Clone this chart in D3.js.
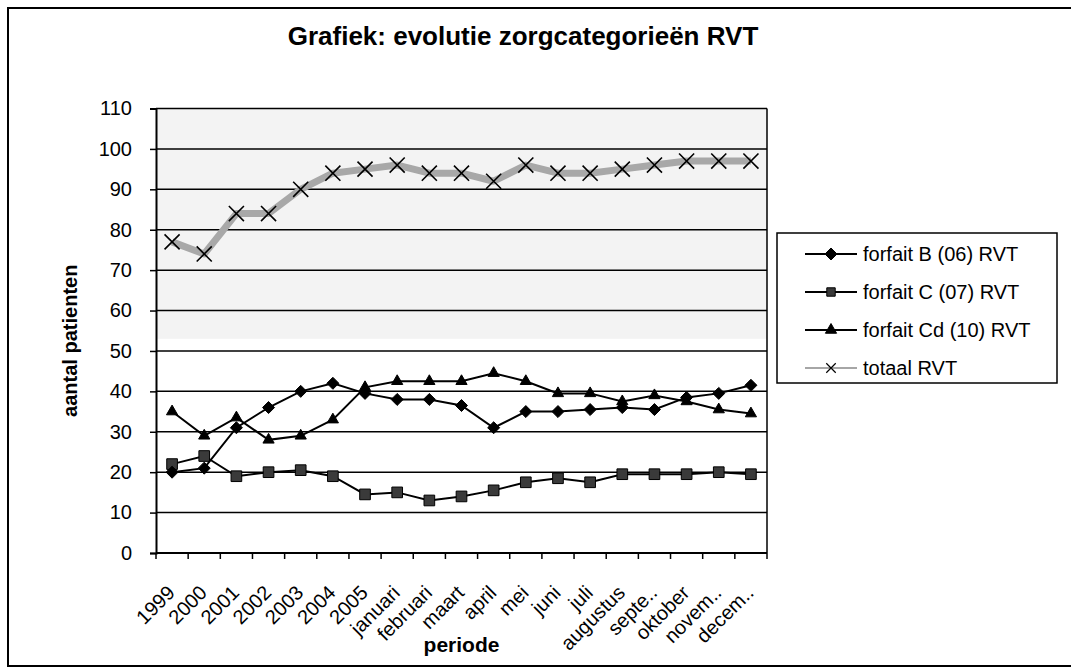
<!DOCTYPE html>
<html lang="nl">
<head>
<meta charset="UTF-8">
<title>Grafiek: evolutie zorgcategorieën RVT</title>
<script src="https://d3js.org/d3.v7.min.js"></script>
<style>
  body { margin: 0; background: #fff; }
  text { font-family: "Liberation Sans", Arial, sans-serif; fill: #000; }
</style>
</head>
<body>
<div id="chart"></div>
<script>
// categories on the x axis
const periods = ["1999", "2000", "2001", "2002", "2003", "2004", "2005",
                 "januari", "februari", "maart", "april", "mei", "juni", "juli",
                 "augustus", "septe..", "oktober", "novem..", "decem.."];

// series values
const forfaitB  = [20, 21, 31, 36, 40, 42, 39.5, 38, 38, 36.5, 31, 35, 35, 35.5, 36, 35.5, 38.5, 39.5, 41.5];
const forfaitC  = [22, 24, 19, 20, 20.5, 19, 14.5, 15, 13, 14, 15.5, 17.5, 18.5, 17.5, 19.5, 19.5, 19.5, 20, 19.5];
const forfaitCd = [35, 29, 33.5, 28, 29, 33, 41, 42.5, 42.5, 42.5, 44.5, 42.5, 39.5, 39.5, 37.5, 39, 37.5, 35.5, 34.5];
const totaal    = [77, 74, 84, 84, 90, 94, 95, 96, 94, 94, 92, 96, 94, 94, 95, 96, 97, 97, 97];

const yTicks = [0, 10, 20, 30, 40, 50, 60, 70, 80, 90, 100, 110];

const seriesNames = ["forfait B (06) RVT", "forfait C (07) RVT", "forfait Cd (10) RVT", "totaal RVT"];

const W = 1071, H = 669;
const plot = {left: 156, right: 767, top: 108.5, bottom: 553};

const svg = d3.select("#chart").append("svg")
    .attr("width", W).attr("height", H);

// outer frame of the scanned chart
svg.append("rect")
    .attr("x", 8).attr("y", 8).attr("width", W + 10).attr("height", 658)
    .attr("fill", "none").attr("stroke", "#000").attr("stroke-width", 2);

const x = d3.scaleBand().domain(periods).range([plot.left, plot.right]);
const y = d3.scaleLinear().domain([0, 110]).range([plot.bottom, plot.top]);
const cx = d => x(d) + x.bandwidth() / 2;

// faint scan shading in the upper band
svg.append("rect")
    .attr("x", plot.left).attr("y", y(110))
    .attr("width", plot.right - plot.left).attr("height", y(53) - y(110))
    .attr("fill", "#f3f3f3");

// gridlines
svg.append("g").selectAll("line")
    .data(yTicks.filter(d => d > 0))
    .join("line")
      .attr("x1", plot.left).attr("x2", plot.right)
      .attr("y1", d => y(d)).attr("y2", d => y(d))
      .attr("stroke", "#000").attr("stroke-width", 1.5);

// right border of plot area
svg.append("line")
    .attr("x1", plot.right).attr("x2", plot.right)
    .attr("y1", y(110)).attr("y2", y(0))
    .attr("stroke", "#000").attr("stroke-width", 1.5);

// y axis
const yAxis = svg.append("g")
    .attr("transform", `translate(${plot.left},0)`)
    .call(d3.axisLeft(y).tickValues(yTicks).tickSize(6).tickPadding(18));
yAxis.select(".domain").attr("stroke-width", 2);
yAxis.selectAll(".tick line").attr("stroke-width", 1.5);
yAxis.selectAll("text")
    .style("font-size", "20px")
    .style("font-family", "'Liberation Sans', Arial, sans-serif");

// x axis: ticks at category boundaries
const xAxis = svg.append("g")
    .attr("transform", `translate(0,${plot.bottom})`);
xAxis.append("line")
    .attr("x1", plot.left).attr("x2", plot.right)
    .attr("stroke", "#000").attr("stroke-width", 2);
xAxis.selectAll("line.tk")
    .data(d3.range(periods.length + 1))
    .join("line")
      .attr("class", "tk")
      .attr("x1", i => plot.left + i * x.step()).attr("x2", i => plot.left + i * x.step())
      .attr("y1", 0).attr("y2", 6)
      .attr("stroke", "#000").attr("stroke-width", 1.5);
xAxis.selectAll("text")
    .data(periods)
    .join("text")
      .attr("transform", d => `translate(${cx(d) + 4},${41}) rotate(-45)`)
      .attr("text-anchor", "end")
      .style("font-size", "20px")
      .text(d => d);

// title and axis labels
svg.append("text")
    .attr("x", 523).attr("y", 45)
    .attr("text-anchor", "middle")
    .style("font-size", "26px").style("font-weight", "bold")
    .text("Grafiek: evolutie zorgcategorieën RVT");

svg.append("text")
    .attr("transform", `translate(77,${(plot.top + plot.bottom) / 2 + 10}) rotate(-90)`)
    .attr("text-anchor", "middle")
    .style("font-size", "20px").style("font-weight", "bold")
    .text("aantal patienten");

svg.append("text")
    .attr("x", (plot.left + plot.right) / 2).attr("y", 652)
    .attr("text-anchor", "middle")
    .style("font-size", "21px").style("font-weight", "bold")
    .text("periode");

// markers
const diamond = d3.symbol().type(d3.symbolDiamond2).size(92);
const square = d3.symbol().type(d3.symbolSquare2).size(145);
const triangle = d3.symbol().type(d3.symbolTriangle2).size(90);
const cross = d3.symbol().type(d3.symbolX).size(150);

const line = d3.line().x((d, i) => cx(periods[i])).y(d => y(d));

// totaal: thick gray band with black crosses
svg.append("path")
    .datum(totaal)
    .attr("d", line)
    .attr("fill", "none").attr("stroke", "#a8a8a8").attr("stroke-width", 7)
    .attr("stroke-linejoin", "round");
svg.append("g").selectAll("path")
    .data(totaal)
    .join("path")
      .attr("transform", (d, i) => `translate(${cx(periods[i])},${y(d)})`)
      .attr("d", cross)
      .attr("fill", "none").attr("stroke", "#000").attr("stroke-width", 1.6);

function drawSeries(values, sym, fill) {
  svg.append("path")
      .datum(values)
      .attr("d", line)
      .attr("fill", "none").attr("stroke", "#000").attr("stroke-width", 2);
  svg.append("g").selectAll("path")
      .data(values)
      .join("path")
        .attr("transform", (d, i) => `translate(${cx(periods[i])},${y(d)})`)
        .attr("d", sym)
        .attr("fill", fill).attr("stroke", "#000").attr("stroke-width", 1);
}
drawSeries(forfaitC, square, "#3a3a3a");
drawSeries(forfaitCd, triangle, "#000");
drawSeries(forfaitB, diamond, "#000");

// legend
const lg = svg.append("g");
lg.append("rect")
    .attr("x", 777).attr("y", 233).attr("width", 280).attr("height", 150)
    .attr("fill", "#fff").attr("stroke", "#000").attr("stroke-width", 1.5);
const legendSyms = [diamond, d3.symbol().type(d3.symbolSquare2).size(90), triangle,
                    d3.symbol().type(d3.symbolX).size(60)];
const legendFill = ["#000", "#3a3a3a", "#000", "none"];
seriesNames.forEach((name, i) => {
  const ly = 254 + i * 38;
  const isTot = i === 3;
  lg.append("line")
      .attr("x1", 805).attr("x2", 857).attr("y1", ly).attr("y2", ly)
      .attr("stroke", isTot ? "#888" : "#000").attr("stroke-width", isTot ? 1.5 : 2);
  lg.append("path")
      .attr("transform", `translate(831,${ly})`)
      .attr("d", legendSyms[i])
      .attr("fill", legendFill[i]).attr("stroke", "#000").attr("stroke-width", isTot ? 1.2 : 1);
  lg.append("text")
      .attr("x", 863).attr("y", ly).attr("dy", "0.36em")
      .style("font-size", "20px")
      .text(name);
});
</script>
</body>
</html>
